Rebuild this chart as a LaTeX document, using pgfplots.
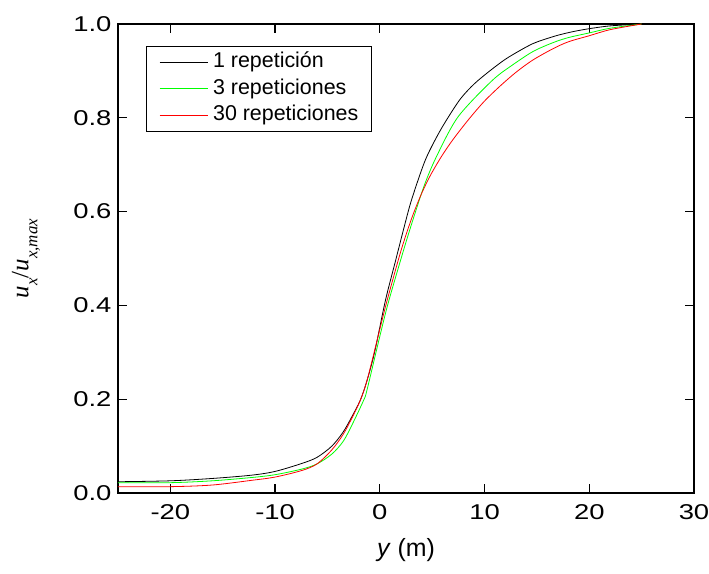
\documentclass[border=0pt]{standalone}
\usepackage{fontspec}
\setmainfont{Liberation Sans}
\newfontfamily\timesfont{Liberation Serif}
\newfontfamily\tickfont{Liberation Sans}[FakeStretch=1.28]
\usepackage{pgfplots}
\pgfplotsset{compat=1.18}
\definecolor{lgreen}{RGB}{0,255,0}
\definecolor{lred}{RGB}{255,0,0}

\pgfplotstableread{
x y
-25 0.024
-20 0.026
-16 0.031
-12.25 0.038
-10 0.046
-7.45 0.063
-6 0.076
-4.58 0.100
-3.5 0.130
-2.66 0.163
-1.86 0.198
-1.22 0.240
-0.5 0.300
0.53 0.410
1.5 0.495
2.3 0.565
3.03 0.625
4.31 0.708
5.5 0.762
6.5 0.800
7.72 0.841
9 0.872
10.5 0.900
12 0.925
13.5 0.945
14.6 0.958
15.56 0.966
17 0.976
18.5 0.984
20 0.990
22 0.996
25 1.000
}\unarep

\pgfplotstableread{
x y
-25 0.022
-20 0.022
-16 0.026
-12.25 0.033
-10 0.039
-7.45 0.051
-6 0.062
-4.58 0.083
-3.5 0.110
-2.66 0.145
-1.54 0.198
-1.22 0.220
0 0.334
0.86 0.410
2.5 0.535
3.73 0.622
4.4 0.665
5.17 0.706
6.5 0.766
7.5 0.803
9 0.841
11 0.885
12.5 0.910
14.6 0.941
16.51 0.960
18 0.971
20 0.981
22 0.991
25 1.000
}\tresrep

\pgfplotstableread{
x y
-25 0.0135
-20 0.0135
-16 0.017
-12.25 0.027
-10 0.034
-7.45 0.048
-6 0.062
-4.58 0.092
-3.5 0.125
-2.66 0.160
-1.86 0.198
-1.22 0.240
0 0.349
0.69 0.410
2 0.515
3 0.583
3.9 0.634
4.8 0.676
5.9 0.718
7 0.754
8.5 0.797
9.97 0.835
11.5 0.868
13 0.897
14.6 0.923
16.51 0.947
18 0.962
20 0.975
22 0.988
25 1.000
}\treintarep

\begin{document}
\begin{tikzpicture}
\path[use as bounding box] (-118bp,-81bp) rectangle (591bp,493bp);
\begin{axis}[
  anchor=south west, at={(0,0)},
  width=576bp, height=469bp, scale only axis,
  xmin=-25, xmax=30, ymin=0, ymax=1.0,
  xtick={-20,-10,0,10,20,30},
  ytick={0,0.2,0.4,0.6,0.8,1.0},
  y tick label style={/pgf/number format/fixed,/pgf/number format/fixed zerofill,/pgf/number format/precision=1},
  /pgf/number format/assume math mode=true,
  tick label style={font=\tickfont\fontsize{21.5}{25}\selectfont},
  xticklabel style={yshift=-8bp},
  yticklabel style={xshift=-3bp},
  tick align=inside, major tick length=9bp,
  axis line style={line width=1.5bp},
  every tick/.style={black,line width=1.2bp},
  xlabel={\fontsize{25}{29}\selectfont\textit{y} (m)},
  xlabel style={at={(rel axis cs:0.5,0)},anchor=center,yshift=-57bp},
  ylabel={\timesfont\fontsize{25}{29}\selectfont\textit{u}\raisebox{-0.8ex}{\fontsize{17}{19}\selectfont\textit{x}}/\textit{u}\raisebox{-0.8ex}{\fontsize{17}{19}\selectfont\textit{x,max}}},
  ylabel style={at={(rel axis cs:0,0.5)},anchor=center,yshift=92bp},
  legend style={at={(0.0486,0.953)},anchor=north west,draw=black,line width=0.6bp,
    font=\fontsize{21.5}{25}\selectfont,inner xsep=13bp,inner ysep=6.5bp,
    nodes={inner sep=0pt,text height=15bp,text depth=4bp},
    row sep=7.5bp,column sep=5bp},
  legend cell align=left,
  every axis plot/.append style={legend image code/.code={\draw[#1,line width=0.8bp] (0bp,0bp) -- (48bp,0bp);}},
]
\addplot[black,line width=0.8bp,smooth] table[x=x,y=y] {\unarep};
\addlegendentry{1 repetición}
\addplot[lgreen,line width=0.8bp,smooth] table[x=x,y=y] {\tresrep};
\addlegendentry{3 repeticiones}
\addplot[lred,line width=0.8bp,smooth] table[x=x,y=y] {\treintarep};
\addlegendentry{30 repeticiones}
\end{axis}
\end{tikzpicture}
\end{document}
